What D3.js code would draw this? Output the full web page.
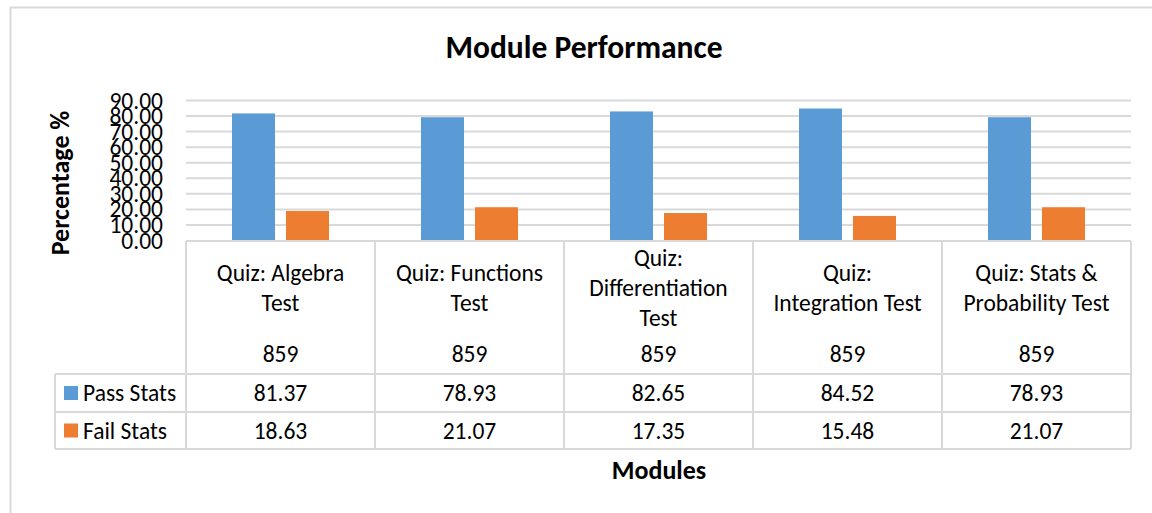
<!DOCTYPE html>
<html>
<head>
<meta charset="utf-8">
<script src="https://cdn.jsdelivr.net/npm/d3@7"></script>
<style>
  body { margin: 0; background: #fff; }
  svg { display: block; }
  text { font-family: Carlito, Calibri, Lato, "Open Sans", sans-serif; fill: #000; }
</style>
</head>
<body>
<div id="chart"></div>
<script>
// data
const categories = ["Quiz: Algebra Test", "Quiz: Functions Test", "Quiz: Differentiation Test", "Quiz: Integration Test", "Quiz: Stats & Probability Test"];
const categoryLines = [
  ["Quiz: Algebra", "Test"],
  ["Quiz: Functions", "Test"],
  ["Quiz:", "Differentiation", "Test"],
  ["Quiz:", "Integration Test"],
  ["Quiz: Stats &", "Probability Test"]
];
const attempts = [859, 859, 859, 859, 859];
const passStats = [81.37, 78.93, 82.65, 84.52, 78.93];
const failStats = [18.63, 21.07, 17.35, 15.48, 21.07];
const seriesNames = ["Pass Stats", "Fail Stats"];
const seriesColors = ["#5B9BD5", "#ED7D31"];
const yTicks = [0, 10, 20, 30, 40, 50, 60, 70, 80, 90];

const W = 1152, H = 513;
const gridColor = "#d9d9d9";
const bodySize = 23.5;

const plot = {left: 186, right: 1131, top: 100, bottom: 240};
const rows = {cats: 241, pass: 374, fail: 412, end: 449};
const legendLeft = 55;

const svg = d3.select("#chart").append("svg")
  .attr("width", W)
  .attr("height", H);

// chart frame (runs off the right and bottom edges)
svg.append("rect")
  .attr("x", 10.5)
  .attr("y", 7.5)
  .attr("width", W + 20)
  .attr("height", H + 20)
  .attr("fill", "#fff")
  .attr("stroke", gridColor)
  .attr("stroke-width", 2);

// title
svg.append("text")
  .text("Module Performance")
  .attr("x", 584)
  .attr("y", 58)
  .attr("text-anchor", "middle")
  .attr("font-size", 31.5)
  .attr("font-weight", "bold");

// scales
let xScale = d3.scaleBand()
  .domain(categories)
  .range([plot.left, plot.right]);

let xInner = d3.scaleBand()
  .domain(seriesNames)
  .range([0, xScale.bandwidth()])
  .paddingInner(0.204)
  .paddingOuter(0.852);

let yScale = d3.scaleLinear()
  .domain([0, 90])
  .range([plot.bottom, plot.top]);

// gridlines
let grid = svg.append("g")
  .attr("transform", "translate(" + plot.left + ",0)")
  .call(d3.axisLeft(yScale).tickValues(yTicks.slice(1)).tickSize(-(plot.right - plot.left)).tickFormat(""));
grid.select(".domain").remove();
grid.selectAll(".tick line")
  .attr("stroke", gridColor)
  .attr("stroke-width", 2);

// y tick labels (crowded, as in the original)
let yAxis = svg.append("g")
  .attr("transform", "translate(" + plot.left + ",0)")
  .call(d3.axisLeft(yScale).tickValues(yTicks).tickSize(0).tickPadding(23).tickFormat(d3.format(".2f")));
yAxis.select(".domain").remove();
yAxis.selectAll("text")
  .attr("font-size", bodySize)
  .attr("dy", "0.34em")
  .attr("fill", "#000");

// y title
svg.append("text")
  .text("Percentage %")
  .attr("transform", "translate(69,183) rotate(-90)")
  .attr("text-anchor", "middle")
  .attr("font-size", 26)
  .attr("font-weight", "bold");

// bars
const allSeries = [passStats, failStats];
allSeries.forEach(function(values, s) {
  svg.append("g")
    .selectAll("rect")
    .data(values)
    .enter()
    .append("rect")
    .attr("x", function(d, i) {
      return xScale(categories[i]) + xInner(seriesNames[s]);
    })
    .attr("y", function(d) {
      return yScale(d);
    })
    .attr("width", xInner.bandwidth())
    .attr("height", function(d) {
      return yScale(0) - yScale(d);
    })
    .attr("fill", seriesColors[s]);
});

// data table lines
let table = svg.append("g")
  .attr("stroke", gridColor)
  .attr("stroke-width", 2)
  .attr("fill", "none");

table.append("line").attr("x1", plot.left).attr("x2", plot.right).attr("y1", rows.cats).attr("y2", rows.cats);
[rows.pass, rows.fail, rows.end].forEach(function(y) {
  table.append("line").attr("x1", legendLeft).attr("x2", plot.right).attr("y1", y).attr("y2", y);
});
table.append("line").attr("x1", legendLeft).attr("x2", legendLeft).attr("y1", rows.pass).attr("y2", rows.end);
categories.concat([null]).forEach(function(c, i) {
  let x = i < categories.length ? xScale(c) : plot.right;
  table.append("line").attr("x1", x).attr("x2", x).attr("y1", rows.cats).attr("y2", rows.end);
});

// category labels
let catText = svg.append("g")
  .selectAll("text")
  .data(categoryLines)
  .enter()
  .append("text")
  .attr("text-anchor", "middle")
  .attr("font-size", bodySize);

catText.each(function(lines, i) {
  let cx = xScale(categories[i]) + xScale.bandwidth() / 2;
  let lineH = 30;
  let top = 288 - (lines.length - 1) * lineH / 2;
  let t = d3.select(this);
  lines.forEach(function(line, j) {
    t.append("tspan")
      .attr("x", cx)
      .attr("y", top + j * lineH + 8)
      .text(line);
  });
});

// attempts row
svg.append("g")
  .selectAll("text")
  .data(attempts)
  .enter()
  .append("text")
  .text(function(d) { return d; })
  .attr("x", function(d, i) { return xScale(categories[i]) + xScale.bandwidth() / 2; })
  .attr("y", 362)
  .attr("text-anchor", "middle")
  .attr("font-size", bodySize);

// series rows
allSeries.forEach(function(values, s) {
  let yTop = s === 0 ? rows.pass : rows.fail;
  let yBot = s === 0 ? rows.fail : rows.end;
  let yMid = (yTop + yBot) / 2;

  svg.append("rect")
    .attr("x", 64)
    .attr("y", yMid - 7)
    .attr("width", 14)
    .attr("height", 14)
    .attr("fill", seriesColors[s]);

  svg.append("text")
    .text(seriesNames[s])
    .attr("x", 83)
    .attr("y", yMid + 8)
    .attr("font-size", bodySize);

  svg.append("g")
    .selectAll("text")
    .data(values)
    .enter()
    .append("text")
    .text(function(d) { return d3.format(".2f")(d); })
    .attr("x", function(d, i) { return xScale(categories[i]) + xScale.bandwidth() / 2; })
    .attr("y", yMid + 8)
    .attr("text-anchor", "middle")
    .attr("font-size", bodySize);
});

// x title
svg.append("text")
  .text("Modules")
  .attr("x", 659)
  .attr("y", 479)
  .attr("text-anchor", "middle")
  .attr("font-size", 26)
  .attr("font-weight", "bold");
</script>
</body>
</html>
